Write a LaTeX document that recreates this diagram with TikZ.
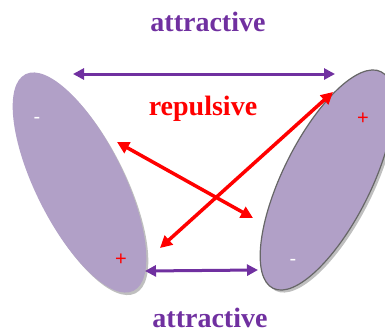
\documentclass[tikz,border=0pt]{standalone}
\usepackage{fontspec}
\setmainfont{Liberation Serif}
\newfontfamily\signfont{Liberation Sans}
\usetikzlibrary{arrows.meta,shapes.geometric}
\definecolor{ppl}{HTML}{7030A0}
\definecolor{elfill}{HTML}{B1A0C7}
\tikzset{
  mol/.style={ellipse, fill=elfill, minimum width=242pt, minimum height=88pt, inner sep=0pt},
  molshadow/.style={ellipse, fill=black!25, minimum width=242pt, minimum height=88pt, inner sep=0pt},
  attr/.style={draw=ppl, line width=3pt, {Triangle[length=11pt,width=11pt]}-{Triangle[length=11pt,width=11pt]}},
  rep/.style={draw=red, line width=3.5pt, {Triangle[length=12pt,width=12pt]}-{Triangle[length=12pt,width=12pt]}},
  lbl/.style={font=\fontsize{28}{32}\selectfont\bfseries, inner sep=0pt},
  sign/.style={font=\signfont\fontsize{20}{22}\selectfont, inner sep=0pt}
}
\begin{document}
\begin{tikzpicture}[x=1pt,y=1pt]
\useasboundingbox (0,0) rectangle (385,333);
% shadows
\node[molshadow, rotate=-63.5] (Ls) at (81.5,148) {};
\node[molshadow, rotate=63.5] (Rs) at (329.5,150.5) {};
% molecules
\node[mol, rotate=-63.5] (L) at (79.5,150.5) {};
\node[mol, draw=black!60, line width=1.2pt, rotate=63.5] (R) at (327,153) {};
% signs
\node[sign, text=white] (Lm) at (37,213) {-};
\node[sign, text=red] (Lp) at (121,73) {+};
\node[sign, text=red] (Rp) at (363,214) {+};
\node[sign, text=white] (Rm) at (293,71) {-};
% arrow end points
\coordinate (t1) at (73,259);
\coordinate (t2) at (335,259);
\coordinate (b1) at (145,62);
\coordinate (b2) at (258,63);
\coordinate (r1a) at (117,191);
\coordinate (r1b) at (253,115);
\coordinate (r2a) at (160,85);
\coordinate (r2b) at (333,241);
\draw[attr] (t1) -- (t2);
\draw[attr] (b1) -- (b2);
\draw[rep] (r1a) -- (r1b);
\draw[rep] (r2a) -- (r2b);
% labels
\node[lbl, text=ppl] (at) at (208,311) {attractive};
\node[lbl, text=red] (rp) at (203,224) {repulsive};
\node[lbl, text=ppl] (ab) at (210,15) {attractive};
\end{tikzpicture}
\end{document}
